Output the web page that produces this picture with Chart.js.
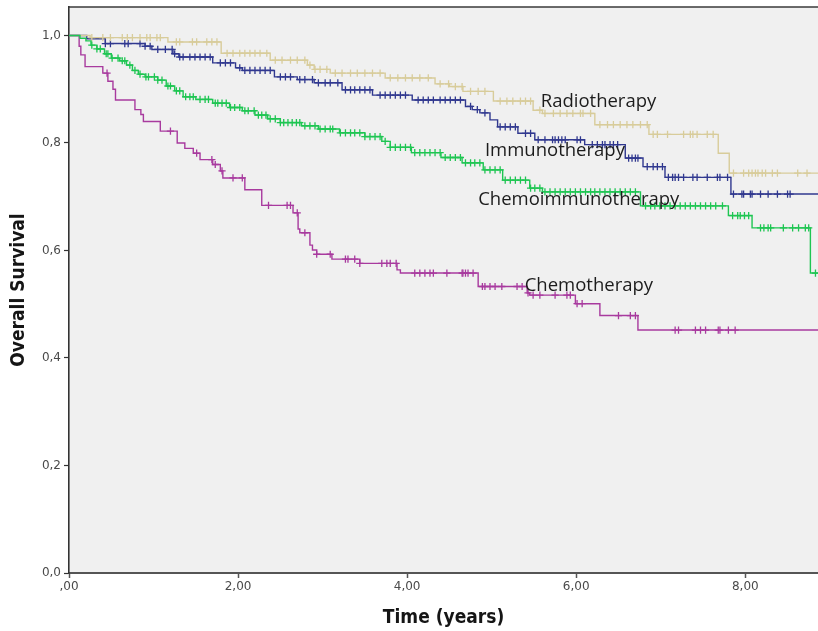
<!DOCTYPE html>
<html>
<head>
<meta charset="utf-8">
<title>Overall Survival</title>
<script src="https://cdn.jsdelivr.net/npm/chart.js@4"></script>
<style>
  html, body { margin: 0; padding: 0; background: #ffffff; }
  #wrap { width: 818px; height: 631px; }
</style>
</head>
<body>
<div id="wrap"><canvas id="km" width="818" height="631"></canvas></div>
<script>
"use strict";

// ─── Data (years / survival proportion) ───────────────────────────────────

const X_MAX = 8.86;
const Y_MAX = 1.053;

const RADIO_T = [0, 0.25, 1.17, 1.80, 2.38, 2.82, 2.90, 3.09, 3.74, 4.33,
  4.50, 4.66, 5.02, 5.49, 5.60, 6.22, 6.86, 7.68, 7.81, 8.86];
const RADIO_S = [1, 0.996, 0.988, 0.967, 0.954, 0.945, 0.937, 0.930, 0.921, 0.910,
  0.905, 0.896, 0.878, 0.861, 0.855, 0.834, 0.816, 0.781, 0.744, 0.744];
const RADIO_CENSOR = [0.27, 0.40, 0.49, 0.63, 0.69, 0.75, 0.84, 0.92, 0.96, 1.04, 1.08,
  1.27, 1.31, 1.46, 1.51, 1.63, 1.69, 1.75, 1.87, 1.94, 2.02, 2.08, 2.14, 2.20, 2.26,
  2.34, 2.44, 2.52, 2.62, 2.70, 2.79, 2.85, 2.91, 2.97, 3.05, 3.15, 3.23, 3.33, 3.41,
  3.50, 3.59, 3.68, 3.80, 3.89, 3.98, 4.06, 4.15, 4.25, 4.39, 4.49, 4.57, 4.65, 4.75,
  4.84, 4.92, 5.10, 5.18, 5.25, 5.34, 5.40, 5.46, 5.57, 5.63, 5.73, 5.81, 5.89, 5.96,
  6.05, 6.08, 6.17, 6.28, 6.37, 6.44, 6.52, 6.60, 6.67, 6.76, 6.84, 6.91, 6.96, 7.08,
  7.27, 7.35, 7.38, 7.43, 7.55, 7.62, 7.86, 7.98, 8.04, 8.08, 8.12, 8.15, 8.20, 8.24,
  8.32, 8.38, 8.62, 8.73];

const IMMUNO_T = [0, 0.21, 0.43, 0.90, 0.98, 1.23, 1.30, 1.70, 1.97, 2.05,
  2.43, 2.70, 2.90, 3.23, 3.59, 4.06, 4.69, 4.77, 4.86, 4.98,
  5.07, 5.31, 5.51, 6.10, 6.58, 6.79, 7.05, 7.83, 8.86];
const IMMUNO_S = [1, 0.994, 0.985, 0.980, 0.974, 0.966, 0.960, 0.949, 0.940, 0.935,
  0.923, 0.918, 0.912, 0.899, 0.889, 0.880, 0.868, 0.862, 0.856, 0.843,
  0.830, 0.818, 0.806, 0.797, 0.772, 0.756, 0.736, 0.705, 0.705];
const IMMUNO_CENSOR = [0.43, 0.49, 0.66, 0.70, 0.84, 0.90, 0.96, 1.05, 1.14, 1.22, 1.25,
  1.31, 1.35, 1.43, 1.49, 1.55, 1.61, 1.67, 1.79, 1.85, 1.91, 2.02, 2.08, 2.14, 2.20,
  2.26, 2.32, 2.38, 2.50, 2.56, 2.62, 2.73, 2.79, 2.88, 2.95, 3.03, 3.09, 3.18, 3.27,
  3.33, 3.38, 3.44, 3.50, 3.56, 3.68, 3.74, 3.80, 3.86, 3.92, 3.98, 4.13, 4.19, 4.25,
  4.31, 4.39, 4.45, 4.51, 4.57, 4.63, 4.75, 4.83, 4.92, 5.10, 5.16, 5.22, 5.28, 5.40,
  5.46, 5.55, 5.63, 5.72, 5.75, 5.79, 5.83, 5.87, 6.01, 6.05, 6.19, 6.25, 6.31, 6.34,
  6.40, 6.44, 6.49, 6.62, 6.66, 6.70, 6.73, 6.84, 6.91, 6.96, 7.02, 7.09, 7.14, 7.17,
  7.21, 7.27, 7.38, 7.43, 7.55, 7.67, 7.70, 7.79, 7.86, 7.96, 7.98, 8.06, 8.08, 8.18,
  8.27, 8.38, 8.50, 8.53];

const CHEMOIMMUNO_T = [0, 0.13, 0.20, 0.26, 0.33, 0.42, 0.50, 0.60, 0.68, 0.75,
  0.82, 0.90, 1.05, 1.15, 1.25, 1.35, 1.50, 1.70, 1.90, 2.05,
  2.20, 2.35, 2.50, 2.75, 2.95, 3.20, 3.50, 3.70, 3.80, 4.05,
  4.40, 4.65, 4.90, 5.13, 5.45, 5.60, 6.76, 7.80, 8.08, 8.77, 8.86];
const CHEMOIMMUNO_S = [1, 0.995, 0.990, 0.982, 0.975, 0.966, 0.958, 0.953, 0.945, 0.935,
  0.928, 0.923, 0.917, 0.906, 0.897, 0.886, 0.881, 0.874, 0.866, 0.860,
  0.852, 0.845, 0.838, 0.832, 0.826, 0.819, 0.812, 0.803, 0.792, 0.782,
  0.773, 0.763, 0.750, 0.731, 0.716, 0.709, 0.683, 0.665, 0.642, 0.558, 0.558];
const CHEMOIMMUNO_CENSOR = [0.27, 0.33, 0.37, 0.44, 0.46, 0.51, 0.58, 0.63, 0.66, 0.72,
  0.78, 0.84, 0.91, 0.94, 1.01, 1.05, 1.10, 1.17, 1.20, 1.27, 1.31, 1.38, 1.43, 1.47,
  1.55, 1.61, 1.65, 1.73, 1.76, 1.81, 1.86, 1.91, 1.96, 2.02, 2.08, 2.12, 2.19, 2.24,
  2.28, 2.33, 2.38, 2.44, 2.50, 2.54, 2.59, 2.64, 2.69, 2.73, 2.79, 2.85, 2.91, 2.97,
  3.03, 3.09, 3.12, 3.21, 3.27, 3.33, 3.38, 3.44, 3.50, 3.56, 3.62, 3.68, 3.74, 3.80,
  3.86, 3.92, 3.98, 4.04, 4.09, 4.15, 4.21, 4.27, 4.33, 4.39, 4.45, 4.51, 4.57, 4.63,
  4.69, 4.75, 4.80, 4.86, 4.92, 4.98, 5.04, 5.10, 5.16, 5.22, 5.28, 5.34, 5.40, 5.46,
  5.51, 5.57, 5.63, 5.69, 5.75, 5.81, 5.87, 5.93, 5.99, 6.05, 6.11, 6.17, 6.22, 6.28,
  6.34, 6.40, 6.46, 6.52, 6.58, 6.64, 6.70, 6.82, 6.88, 6.93, 6.99, 7.05, 7.11, 7.17,
  7.23, 7.29, 7.35, 7.41, 7.47, 7.53, 7.59, 7.65, 7.73, 7.85, 7.91, 7.94, 7.99, 8.04,
  8.18, 8.22, 8.27, 8.30, 8.45, 8.56, 8.63, 8.71, 8.75, 8.83];

const CHEMO_T = [0, 0.12, 0.14, 0.19, 0.40, 0.46, 0.52, 0.55, 0.78, 0.85,
  0.88, 1.08, 1.28, 1.37, 1.47, 1.55, 1.70, 1.79, 1.82, 2.08,
  2.28, 2.65, 2.71, 2.73, 2.85, 2.88, 2.93, 3.11, 3.44, 3.88,
  3.92, 4.84, 5.42, 5.45, 5.99, 6.28, 6.73, 8.86];
const CHEMO_S = [1, 0.980, 0.964, 0.942, 0.930, 0.915, 0.900, 0.880, 0.862, 0.853,
  0.840, 0.822, 0.800, 0.790, 0.781, 0.769, 0.760, 0.748, 0.735, 0.713,
  0.684, 0.670, 0.640, 0.633, 0.610, 0.601, 0.593, 0.584, 0.576, 0.564,
  0.558, 0.533, 0.521, 0.517, 0.501, 0.479, 0.452, 0.452];
const CHEMO_CENSOR = [0.45, 1.20, 1.51, 1.69, 1.73, 1.81, 1.94, 2.05, 2.36, 2.58, 2.62,
  2.70, 2.79, 2.93, 3.09, 3.27, 3.30, 3.38, 3.44, 3.70, 3.76, 3.80, 3.87, 4.09, 4.15,
  4.21, 4.27, 4.31, 4.47, 4.65, 4.66, 4.69, 4.72, 4.78, 4.89, 4.92, 4.98, 5.04, 5.12,
  5.30, 5.36, 5.43, 5.49, 5.57, 5.75, 5.89, 5.93, 6.01, 6.07, 6.50, 6.64, 6.70, 7.17,
  7.21, 7.41, 7.47, 7.53, 7.68, 7.70, 7.80, 7.88];

const CURVE_LABELS = ["Radiotherapy", "Immunotherapy", "Chemoimmunotherapy", "Chemotherapy"];
const LABEL_T = [5.58, 4.92, 4.84, 5.39];
const LABEL_S = [0.876, 0.786, 0.695, 0.535];

const COLORS = {
  radio:  "#d8cc9a",
  immuno: "#30388f",
  chemoimmuno: "#1ec552",
  chemo:  "#a83a9e",
};

// ─── Helpers ──────────────────────────────────────────────────────────────

function stepPoints(times, surv) {
  return times.map((t, i) => ({ x: t, y: surv[i] }));
}

// survival level of the curve at time t (value the step holds there)
function survivalAt(times, surv, t) {
  let s = surv[0];
  for (let i = 0; i < times.length; i++) {
    if (times[i] <= t) s = surv[i];
    else break;
  }
  return s;
}

function censorPoints(times, surv, censor) {
  return censor.map((t) => ({ x: t, y: survivalAt(times, surv, t) }));
}

function curve(times, surv, color) {
  return {
    type: "line",
    data: stepPoints(times, surv),
    stepped: "before",
    borderColor: color,
    borderWidth: 1.4,
    pointRadius: 0,
    fill: false,
  };
}

function marks(times, surv, censor, color) {
  return {
    type: "scatter",
    data: censorPoints(times, surv, censor),
    pointStyle: "cross",
    pointRadius: 3.6,
    borderColor: color,
    borderWidth: 1.3,
    showLine: false,
  };
}

// ─── Plugins ──────────────────────────────────────────────────────────────

const plotFrame = {
  id: "plotFrame",
  beforeDraw(chart) {
    const { ctx, chartArea: a } = chart;
    ctx.save();
    ctx.fillStyle = "#f0f0f0";
    ctx.fillRect(a.left, a.top, a.right - a.left, a.bottom - a.top);
    ctx.strokeStyle = "#3a3a3a";
    ctx.lineWidth = 1.6;
    ctx.beginPath();
    ctx.moveTo(a.left, a.top);
    ctx.lineTo(a.right, a.top);
    ctx.stroke();
    ctx.restore();
  },
};

const curveLabels = {
  id: "curveLabels",
  afterDatasetsDraw(chart) {
    const { ctx, scales: { x, y } } = chart;
    ctx.save();
    ctx.fillStyle = "#1c1c1c";
    ctx.font = "18.5px 'Open Sans'";
    ctx.textAlign = "left";
    ctx.textBaseline = "middle";
    CURVE_LABELS.forEach((txt, i) => {
      ctx.fillText(txt, x.getPixelForValue(LABEL_T[i]), y.getPixelForValue(LABEL_S[i]));
    });
    ctx.restore();
  },
};

// ─── Chart ────────────────────────────────────────────────────────────────

new Chart(document.getElementById("km").getContext("2d"), {
  data: {
    datasets: [
      curve(CHEMOIMMUNO_T, CHEMOIMMUNO_S, COLORS.chemoimmuno),
      marks(CHEMOIMMUNO_T, CHEMOIMMUNO_S, CHEMOIMMUNO_CENSOR, COLORS.chemoimmuno),
      curve(RADIO_T, RADIO_S, COLORS.radio),
      marks(RADIO_T, RADIO_S, RADIO_CENSOR, COLORS.radio),
      curve(IMMUNO_T, IMMUNO_S, COLORS.immuno),
      marks(IMMUNO_T, IMMUNO_S, IMMUNO_CENSOR, COLORS.immuno),
      curve(CHEMO_T, CHEMO_S, COLORS.chemo),
      marks(CHEMO_T, CHEMO_S, CHEMO_CENSOR, COLORS.chemo),
    ],
  },
  options: {
    responsive: false,
    animation: false,
    events: [],
    layout: { autoPadding: false, padding: { top: 7, right: 0, bottom: 0, left: 0 } },
    plugins: {
      legend: { display: false },
      tooltip: { enabled: false },
    },
    scales: {
      x: {
        type: "linear",
        min: 0,
        max: X_MAX,
        afterFit(scale) {
          scale.height = 58;
          scale.paddingLeft = 0;
          scale.paddingRight = 0;
        },
        ticks: {
          stepSize: 2,
          includeBounds: false,
          maxRotation: 0,
          autoSkip: false,
          padding: 2,
          color: "#4a4a4a",
          font: { family: "'DejaVu Sans'", size: 12 },
          callback: (v) => (v === 0 ? ",00" : v.toFixed(2).replace(".", ",")),
        },
        grid: { drawOnChartArea: false, tickLength: 5, color: "#555", tickWidth: 1.5 },
        border: { color: "#555", width: 2 },
        title: {
          display: true,
          text: "Time (years)",
          color: "#151515",
          font: { family: "'DejaVu Sans Condensed'", weight: "bold", size: 19 },
          padding: { top: 0, bottom: 2 },
        },
      },
      y: {
        type: "linear",
        min: 0,
        max: Y_MAX,
        afterFit(scale) {
          scale.width = 69;
          scale.paddingTop = 0;
          scale.paddingBottom = 0;
        },
        ticks: {
          stepSize: 0.2,
          includeBounds: false,
          padding: 3,
          color: "#4a4a4a",
          font: { family: "'DejaVu Sans'", size: 12 },
          callback: (v) => v.toFixed(1).replace(".", ","),
        },
        grid: { drawOnChartArea: false, tickLength: 5, color: "#333", tickWidth: 1.2 },
        border: { color: "#333", width: 1.6 },
        title: {
          display: true,
          text: "Overall Survival",
          color: "#151515",
          font: { family: "'DejaVu Sans Condensed'", weight: "bold", size: 19 },
          padding: { top: 8, bottom: 0 },
        },
      },
    },
  },
  plugins: [plotFrame, curveLabels],
});
</script>
</body>
</html>
